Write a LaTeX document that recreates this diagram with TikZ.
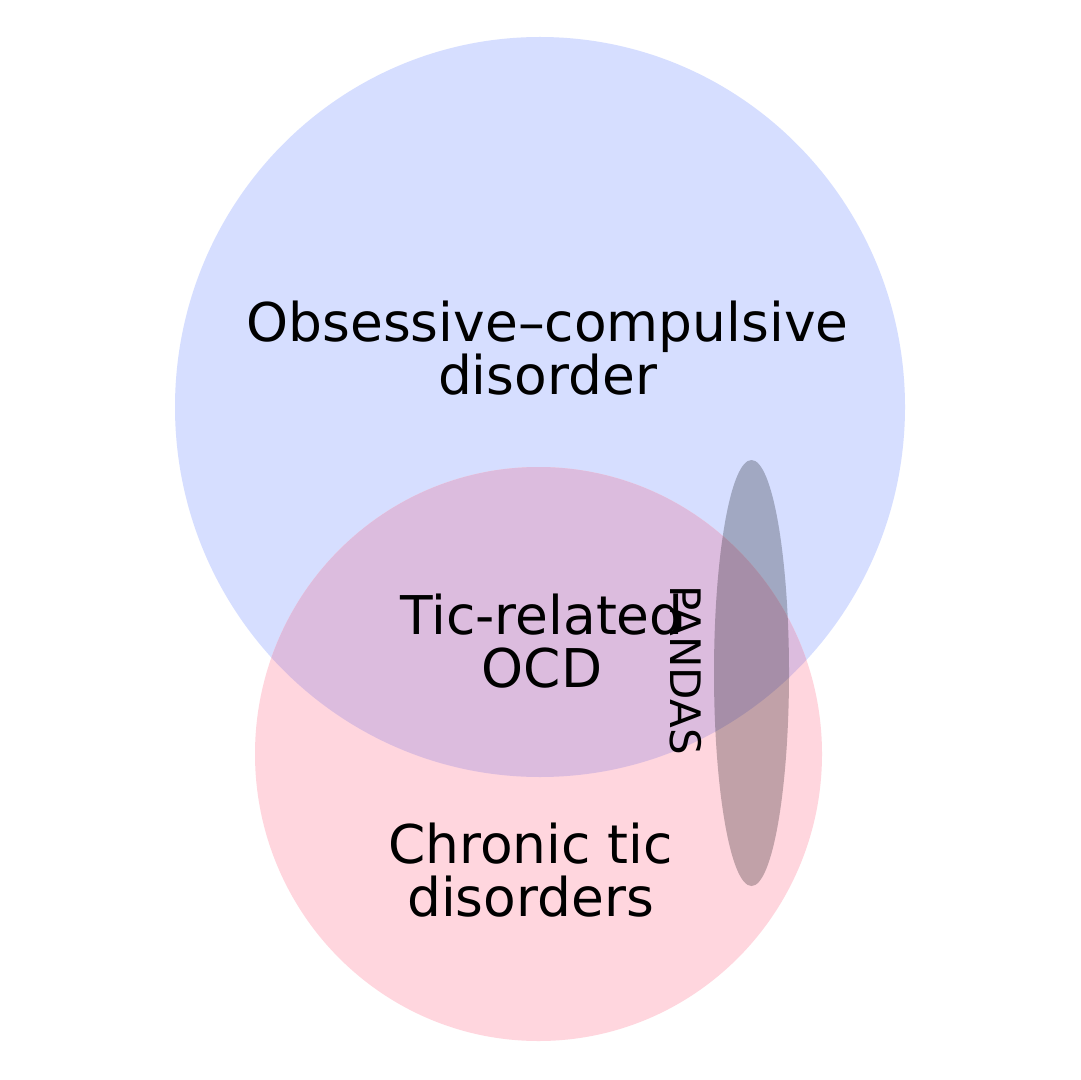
\documentclass[tikz,border=0pt]{standalone}
\usepackage{fontspec}
\setmainfont{DejaVu Sans}
\usepackage{tikz}
\usepackage{xcolor}

\definecolor{ocdblue}{RGB}{214,222,255}
\definecolor{ticpink}{RGB}{255,214,222}
\definecolor{bothmix}{RGB}{220,188,222}
\definecolor{pandasgray}{RGB}{193,193,194}

\tikzset{
  vennlabel/.style={align=center, inner sep=0pt, font=\fontsize{26.7}{26.5}\selectfont},
  set/.style={blend mode=multiply}
}

\begin{document}
\begin{tikzpicture}[x=0.5pt,y=-0.5pt]
  \fill[white] (0,0) rectangle (1080,1080);
  \useasboundingbox (0,0) rectangle (1080,1080);
  \fill[ocdblue] (540,407) ellipse [x radius=365, y radius=370];
  \fill[ticpink] (538.5,754) ellipse [x radius=283.5, y radius=287];
  \begin{scope}
    \clip (540,407) ellipse [x radius=365, y radius=370];
    \fill[bothmix] (538.5,754) ellipse [x radius=283.5, y radius=287];
  \end{scope}
  \fill[set, pandasgray] (751.5,673) ellipse [x radius=37.5, y radius=213];
\node[vennlabel] (ocd) at (547.5,348.5) {Obsessive–compulsive\\disorder};
\node[vennlabel] (ticocd) at (542,641.5) {Tic-related\\OCD};
\node[vennlabel] (ctd) at (530.5,870.5) {Chronic tic\\disorders};
\node[inner sep=0pt, rotate=-90, font=\fontsize{21}{21}\selectfont] (pandas) at (686,670) {PANDAS};

\end{tikzpicture}
\end{document}
